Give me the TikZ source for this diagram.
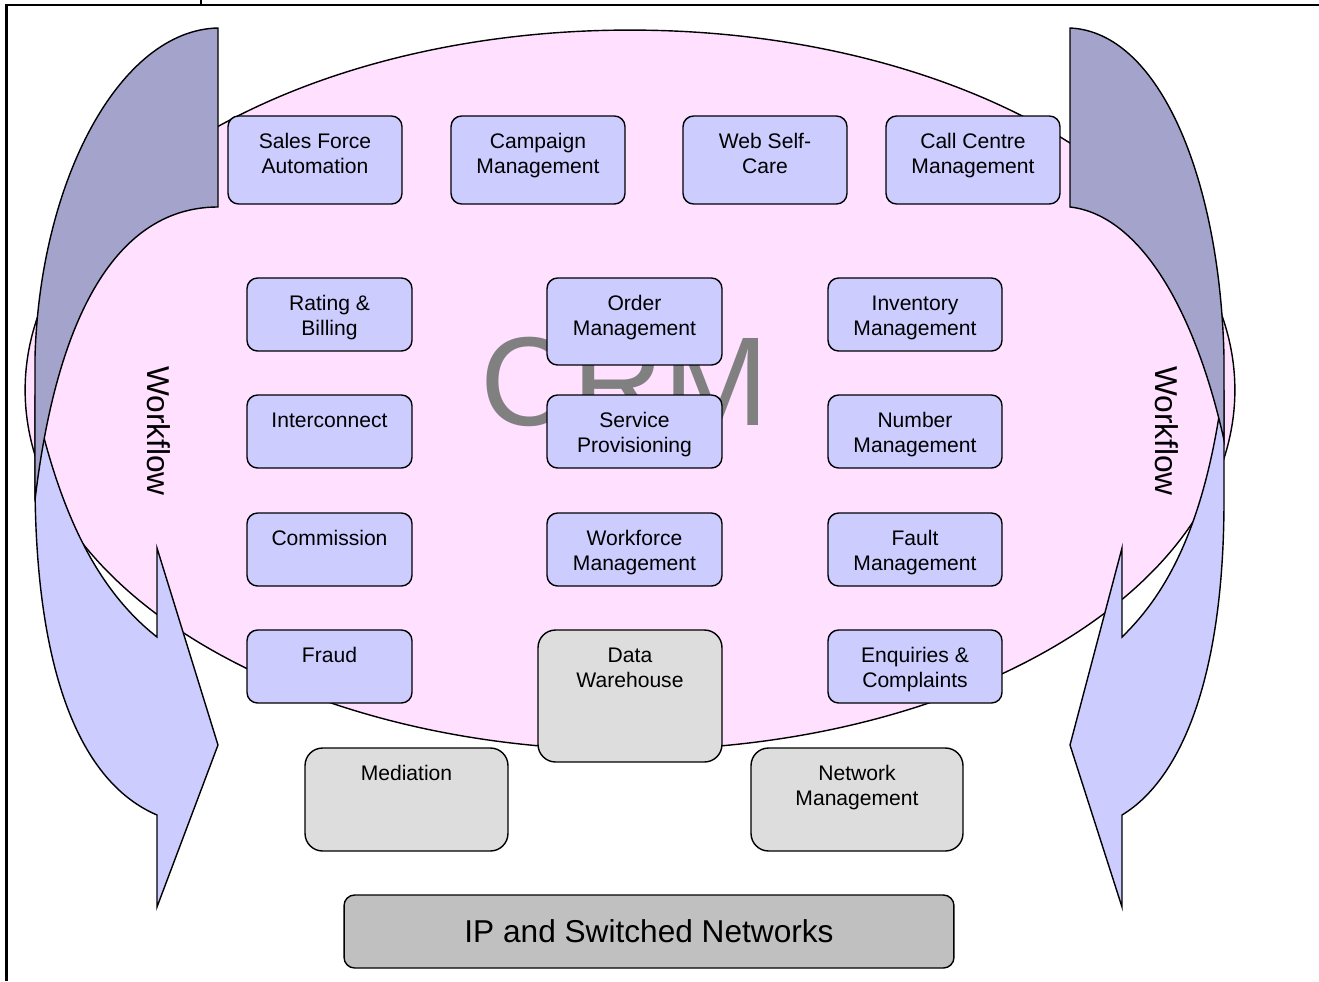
\documentclass[tikz,border=0pt]{standalone}
\usepackage{fontspec}
\setmainfont{Liberation Sans}
\usepackage{tikz}
\usepackage{xcolor}
\usetikzlibrary{positioning}

\definecolor{crmpink}{RGB}{255,224,255}
\definecolor{compblue}{RGB}{204,204,255}
\definecolor{flowdark}{RGB}{163,163,204}
\definecolor{compgrey}{RGB}{221,221,221}
\definecolor{netgrey}{RGB}{192,192,192}
\definecolor{crmtext}{RGB}{128,128,128}

% box text sits at the top of the box
\newcommand{\boxtxt}[3]{\parbox[c][#2][t]{#1}{\centering\rule{0pt}{18.5pt}#3}}

\begin{document}
\begin{tikzpicture}[x=0.02cm,y=-0.02cm]
\tikzstyle{every node}+=[inner sep=0pt]
\tikzstyle{comp}=[draw=black, line width=0.8pt, fill=compblue, rounded corners=6pt, font=\fontsize{12}{14.2}\selectfont]
\tikzstyle{compgray}=[comp, fill=compgrey, rounded corners=10pt]
\tikzstyle{flowlight}=[draw=black, line width=0.8pt, fill=compblue, line join=miter]
\tikzstyle{flowback}=[draw=black, line width=0.8pt, fill=flowdark]
\useasboundingbox (0,0) rectangle (1319,981);
% frame
\draw [black, line width=1.2pt] (6.5,981) -- (6.5,5) -- (1319,5);
\draw [black, line width=1.2pt] (201,0) -- (201,5);
% CRM ellipse
\draw [black, line width=0.8pt, fill=crmpink] (630,390) ellipse [x radius=12.1cm, y radius=7.2cm];
% workflow arrows, left
\draw [flowlight] (35,400) -- (35,480) .. controls (35,660) and (75,780) .. (157,815) -- (157,907) -- (218,745) -- (157,548) -- (157,637) .. controls (110,600) and (70,540) .. (42,430) -- cycle;
\draw [flowback] (218,28) -- (218,207) .. controls (130,207) and (60,290) .. (35,500) -- (35,357) .. controls (40,180) and (120,30) .. (218,28) -- cycle;
% workflow arrows, right
\draw [flowlight] (1224,390) -- (1224,500) .. controls (1224,680) and (1180,780) .. (1122,815) -- (1122,907) -- (1070,745) -- (1122,548) -- (1122,637) .. controls (1160,600) and (1200,540) .. (1220,410) -- cycle;
\draw [flowback] (1070,28) -- (1070,207) .. controls (1140,215) and (1195,310) .. (1224,440) -- (1224,357) .. controls (1220,180) and (1160,32) .. (1070,28) -- cycle;
\node [rotate=-90, font=\fontsize{18}{18}\selectfont] (wfleft) at (159,431) {Workflow};
\node [rotate=-90, font=\fontsize{18}{18}\selectfont] (wfright) at (1167,431) {Workflow};
\node [text=crmtext, font=\fontsize{72}{72}\selectfont] (crm) at (625,382) {CRM};
% CRM components
\node [comp] (sales) at (315,160) {\boxtxt{3.48cm}{1.76cm}{Sales Force\\Automation}};
\node [comp] (campaign) at (538,160) {\boxtxt{3.48cm}{1.76cm}{Campaign\\Management}};
\node [comp] (webcare) at (765,160) {\boxtxt{3.28cm}{1.76cm}{Web Self-\\Care}};
\node [comp] (callcentre) at (973,160) {\boxtxt{3.48cm}{1.76cm}{Call Centre\\Management}};
\node [comp] (rating) at (329.5,314.5) {\boxtxt{3.3cm}{1.46cm}{Rating \&\\Billing}};
\node [comp] (order) at (634.5,321.5) {\boxtxt{3.5cm}{1.74cm}{Order\\Management}};
\node [comp] (inventory) at (915,314.5) {\boxtxt{3.48cm}{1.46cm}{Inventory\\Management}};
\node [comp] (interconnect) at (329.5,431.5) {\boxtxt{3.3cm}{1.46cm}{Interconnect}};
\node [comp] (service) at (634.5,431.5) {\boxtxt{3.5cm}{1.46cm}{Service\\Provisioning}};
\node [comp] (number) at (915,431.5) {\boxtxt{3.48cm}{1.46cm}{Number\\Management}};
\node [comp] (commission) at (329.5,549.5) {\boxtxt{3.3cm}{1.46cm}{Commission}};
\node [comp] (workforce) at (634.5,549.5) {\boxtxt{3.5cm}{1.46cm}{Workforce\\Management}};
\node [comp] (fault) at (915,549.5) {\boxtxt{3.48cm}{1.46cm}{Fault\\Management}};
\node [comp] (fraud) at (329.5,666.5) {\boxtxt{3.3cm}{1.46cm}{Fraud}};
\node [compgray] (datawh) at (630,696) {\boxtxt{3.68cm}{2.64cm}{Data\\Warehouse}};
\node [comp] (enquiries) at (915,666.5) {\boxtxt{3.48cm}{1.46cm}{Enquiries \&\\Complaints}};
% network layer
\node [compgray] (mediation) at (406.5,799.5) {\boxtxt{4.06cm}{2.06cm}{Mediation}};
\node [compgray] (netmgmt) at (857,799.5) {\boxtxt{4.24cm}{2.06cm}{Network\\Management}};
\node [comp, fill=netgrey, minimum width=12.2cm, minimum height=1.46cm, font=\fontsize{18}{18}\selectfont] (ipnet) at (649,931.5) {IP and Switched Networks};
\end{tikzpicture}
\end{document}
